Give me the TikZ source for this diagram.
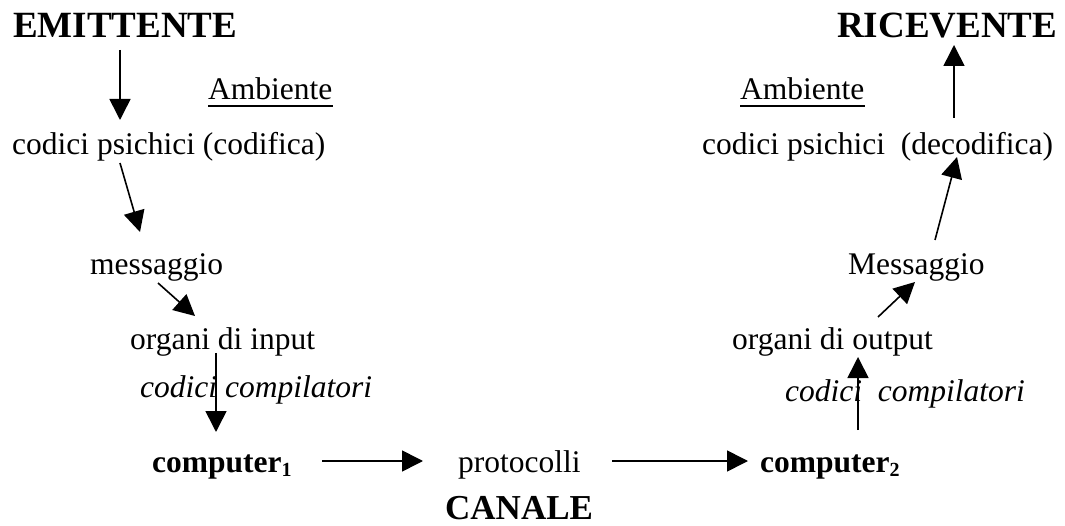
\documentclass[tikz,border=0pt]{standalone}
\usepackage{fontspec}
\setmainfont{Liberation Serif}
\usetikzlibrary{arrows.meta,calc}
\newcommand{\subdig}[1]{\raisebox{-4pt}{\fontsize{20}{20}\selectfont #1}}
\begin{document}
\begin{tikzpicture}[x=1pt,y=-1pt,
  txt/.style={anchor=base west,inner sep=0pt,font=\fontsize{31.5}{36}\selectfont},
  head/.style={anchor=base west,inner sep=0pt,font=\fontsize{37}{42}\selectfont\bfseries},
  itx/.style={txt,font=\fontsize{31.5}{36}\selectfont\itshape},
  bld/.style={txt,font=\fontsize{31.5}{36}\selectfont\bfseries},
  arr/.style={line width=1.6pt,-{Triangle[length=21pt,width=21pt]}},
  uline/.style={line width=2pt}]
\useasboundingbox (0,0) rectangle (1065,526);
% nodes
\node[head] (emit) at (13,38) {EMITTENTE};
\node[head] (ric) at (837,38) {RICEVENTE};
\node[txt] (amb1) at (208,100) {Ambiente};
\node[txt] (amb2) at (740,100) {Ambiente};
\node[txt] (cod1) at (12,155) {codici psichici (codifica)};
\node[txt] (cod2) at (702,155) {codici psichici\ \ (decodifica)};
\node[txt] (mess1) at (90,275) {messaggio};
\node[txt] (mess2) at (848,275) {Messaggio};
\node[txt] (in) at (130,350) {organi di input};
\node[txt] (out) at (732,350) {organi di output};
\node[itx] (cc1) at (140,397) {codici compilatori};
\node[itx] (cc2) at (785,401) {codici\ \ compilatori};
\node[bld] (c1) at (152,472) {computer\subdig{1}};
\node[txt] (prot) at (458,472) {protocolli};
\node[bld] (c2) at (760,472) {computer\subdig{2}};
\node[head,font=\fontsize{35}{40}\selectfont\bfseries] (can) at (445,519) {CANALE};
% underlines
\draw[uline] ([yshift=-6pt]amb1.base west) -- ([yshift=-6pt]amb1.base east);
\draw[uline] ([yshift=-6pt]amb2.base west) -- ([yshift=-6pt]amb2.base east);
% arrows
\draw[arr] ($(emit.base west)+(107,12)$) -- ($(cod1.base west)+(108,-35)$);
\draw[arr] ($(cod1.base west)+(108,8)$) -- ($(mess1.base west)+(50,-43)$);
\draw[arr] ($(mess1.base west)+(68,8)$) -- ($(in.base west)+(65,-34)$);
\draw[arr] ($(in.base west)+(86,3)$) -- ($(c1.base west)+(64,-40)$);
\draw[arr] ($(c1.base west)+(170,-11)$) -- ($(prot.base west)+(-35,-11)$);
\draw[arr] ($(prot.base west)+(154,-11)$) -- ($(c2.base west)+(-12,-11)$);
\draw[arr] ($(c2.base west)+(98,-42)$) -- ($(out.base west)+(126,7)$);
\draw[arr] ($(out.base west)+(146,-33)$) -- ($(mess2.base west)+(67,7)$);
\draw[arr] ($(mess2.base west)+(87,-35)$) -- ($(cod2.base west)+(255,2)$);
\draw[arr] ($(cod2.base west)+(252,-37)$) -- ($(ric.base west)+(117,7)$);
\end{tikzpicture}
\end{document}
